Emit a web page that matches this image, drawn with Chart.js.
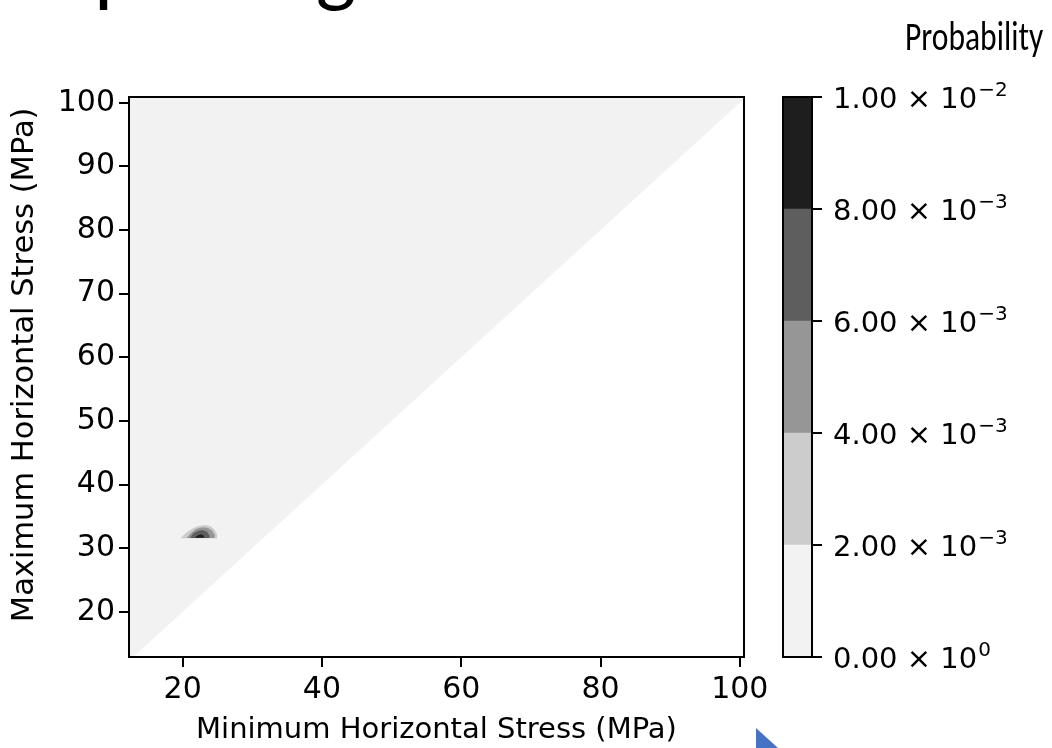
<!DOCTYPE html>
<html>
<head>
<meta charset="utf-8">
<script src="https://cdn.jsdelivr.net/npm/chart.js@4"></script>
<style>
  html, body { margin: 0; padding: 0; background: #fff; }
  #page { position: relative; width: 1052px; height: 748px; overflow: hidden; }
  #mainChart { position: absolute; left: 0; top: 0; }
  #cbarChart { position: absolute; left: 770px; top: 0; }
  #slideTitle { position: absolute; left: 41px; top: -79px; font: 72px 'Carlito', 'Noto Sans', sans-serif; color: #000; white-space: nowrap; line-height: 1.2; }
  #cbarTitle { position: absolute; left: 905px; top: 12px; font: 40px 'Carlito', 'Noto Sans', sans-serif; color: #000; white-space: nowrap; transform-origin: 0 0; }
  #arrow { position: absolute; left: 756px; top: 728px; width: 22px; height: 20px; background: #4472c4; clip-path: polygon(0 0, 100% 100%, 0 100%); }
</style>
</head>
<body>
<div id="page">
  <div id="slideTitle">Updating<span id="base" style="display:inline-block;width:0;height:0"></span></div>
  <canvas id="mainChart" width="775" height="748"></canvas>
  <canvas id="cbarChart" width="282" height="748"></canvas>
  <div id="cbarTitle">Probability</div>
  <div id="arrow"></div>
</div>
<script>
// axis ranges and ticks
const xRange = [12.3, 100.6];
const yRange = [12.9, 100.9];
const xTicks = [20, 40, 60, 80, 100];
const yTicks = [20, 30, 40, 50, 60, 70, 80, 90, 100];

// prior region: Shmax >= Shmin (filled above the line)
const diagX = [12.3, 100.6];
const diagY = [12.3, 100.6];

// probability contours (outer -> inner), x = Shmin, y = Shmax
const level1X = [19.8, 20.6, 21.4, 22.3, 23.3, 24.0, 24.6, 24.95, 24.95, 19.8];
const level1Y = [31.7, 32.5, 33.1, 33.5, 33.65, 33.45, 32.9, 32.1, 31.55, 31.55];
const level2X = [20.6, 21.2, 21.9, 22.8, 23.6, 24.2, 24.6, 24.6, 20.6];
const level2Y = [31.65, 32.4, 33.0, 33.3, 33.2, 32.8, 32.1, 31.6, 31.6];
const level3X = [21.1, 21.5, 22.2, 22.9, 23.5, 23.85, 23.85, 21.1];
const level3Y = [31.65, 32.3, 32.75, 32.85, 32.6, 32.0, 31.6, 31.6];
const level4X = [21.8, 22.2, 22.6, 23.0, 23.1, 21.8];
const level4Y = [31.7, 32.05, 32.2, 32.0, 31.65, 31.65];

// colour bar
const cbarTicks = [0, 0.002, 0.004, 0.006, 0.008, 0.01];
const cbarMantissa = ['0.00', '2.00', '4.00', '6.00', '8.00', '1.00'];
const cbarExponent = ['0', '−3', '−3', '−3', '−3', '−2'];
const bandColors = ['#f2f2f2', '#cccccc', '#969696', '#5e5e5e', '#1e1e1e'];

const tickFont = { family: "'DejaVu Sans', sans-serif", size: 30 };
const titleFont = { family: "'DejaVu Sans', sans-serif", size: 29 };
const yTitleFont = { family: "'DejaVu Sans', sans-serif", size: 30.5 };

function toPoints(xs, ys) {
  return xs.map((x, i) => ({ x, y: ys[i] }));
}

function contour(xs, ys, color, order) {
  return {
    data: toPoints(xs, ys),
    showLine: true,
    fill: 'shape',
    backgroundColor: color,
    borderColor: 'transparent',
    borderWidth: 0,
    pointRadius: 0,
    order
  };
}

// draws the black box round the plot area
const framePlugin = {
  id: 'frame',
  afterDraw(chart) {
    const { ctx, chartArea: a } = chart;
    ctx.save();
    ctx.strokeStyle = '#000';
    ctx.lineWidth = 2;
    ctx.strokeRect(a.left, a.top, a.right - a.left, a.bottom - a.top);
    ctx.restore();
  }
};

// colour bar labels like "2.00 × 10^-3" with a raised exponent
const sciLabelPlugin = {
  id: 'sciLabels',
  afterDraw(chart) {
    const { ctx, chartArea: a } = chart;
    const scale = chart.scales.y;
    ctx.save();
    ctx.fillStyle = '#000';
    ctx.textBaseline = 'alphabetic';
    ctx.textAlign = 'left';
    cbarTicks.forEach((v, i) => {
      const y = scale.getPixelForValue(v);
      const x = a.right + 21;
      ctx.font = "29px 'DejaVu Sans', sans-serif";
      const main = cbarMantissa[i] + ' × 10';
      ctx.fillText(main, x, y + 10.5);
      const w = ctx.measureText(main).width;
      ctx.font = "20px 'DejaVu Sans', sans-serif";
      ctx.fillText(cbarExponent[i], x + w + 1, y - 1);
    });
    ctx.restore();
  }
};

Chart.defaults.font.family = "'DejaVu Sans', sans-serif";
Chart.defaults.color = '#000';

new Chart(document.getElementById('mainChart').getContext('2d'), {
  type: 'scatter',
  data: {
    datasets: [
      contour(level4X, level4Y, bandColors[4], 1),
      contour(level3X, level3Y, bandColors[3], 2),
      contour(level2X, level2Y, bandColors[2], 3),
      contour(level1X, level1Y, bandColors[1], 4),
      {
        data: toPoints(diagX, diagY),
        showLine: true,
        fill: 'end',
        backgroundColor: bandColors[0],
        borderColor: 'transparent',
        borderWidth: 0,
        pointRadius: 0,
        order: 5
      }
    ]
  },
  options: {
    responsive: false,
    animation: false,
    devicePixelRatio: 1,
    layout: { padding: { left: 0, top: 97, right: 31, bottom: 0 } },
    plugins: { legend: { display: false }, tooltip: { enabled: false } },
    scales: {
      x: {
        type: 'linear',
        min: xRange[0],
        max: xRange[1],
        afterBuildTicks: s => { s.ticks = xTicks.map(v => ({ value: v })); },
        afterFit: s => { s.height = 91; },
        grid: { drawOnChartArea: false, drawTicks: true, tickLength: 10, color: '#000', lineWidth: 2 },
        border: { display: false },
        ticks: { font: tickFont, padding: 5, maxRotation: 0 },
        title: { display: true, text: 'Minimum Horizontal Stress (MPa)', font: titleFont, padding: { top: 0, bottom: 0 } }
      },
      y: {
        type: 'linear',
        min: yRange[0],
        max: yRange[1],
        afterBuildTicks: s => { s.ticks = yTicks.map(v => ({ value: v })); },
        afterFit: s => { s.width = 129; },
        grid: { drawOnChartArea: false, drawTicks: true, tickLength: 10, color: '#000', lineWidth: 2 },
        border: { display: false },
        ticks: { font: tickFont, padding: 4 },
        // thin spaces in front nudge the label up a little, as in the picture
        title: { display: true, text: '\u2009\u2009\u2009\u2009Maximum Horizontal Stress (MPa)', font: yTitleFont, padding: { top: 7, bottom: 0 } }
      }
    }
  },
  plugins: [framePlugin]
});

new Chart(document.getElementById('cbarChart').getContext('2d'), {
  type: 'bar',
  data: {
    labels: [''],
    datasets: bandColors.map((c, i) => ({
      data: [cbarTicks[i + 1] - cbarTicks[i]],
      backgroundColor: c,
      borderWidth: 0,
      barPercentage: 1,
      categoryPercentage: 1
    }))
  },
  options: {
    responsive: false,
    animation: false,
    devicePixelRatio: 1,
    layout: { padding: { left: 13, top: 97, right: 0, bottom: 91 } },
    plugins: { legend: { display: false }, tooltip: { enabled: false } },
    scales: {
      x: { display: false, stacked: true },
      y: {
        position: 'right',
        stacked: true,
        min: 0,
        max: 0.01,
        afterBuildTicks: s => { s.ticks = cbarTicks.map(v => ({ value: v })); },
        afterFit: s => { s.width = 240; },
        grid: { drawOnChartArea: false, drawTicks: true, tickLength: 10, color: '#000', lineWidth: 2 },
        border: { display: false },
        ticks: { font: titleFont, padding: 10, callback: () => '' }
      }
    }
  },
  plugins: [framePlugin, sciLabelPlugin]
});

// squeeze the colour bar title to the width it has in the picture
const cbTitle = document.getElementById('cbarTitle');
cbTitle.style.transform = 'scaleX(' + (138 / cbTitle.offsetWidth) + ')';

// slide title cut off by the top edge: only the descenders of p and g show
const st = document.getElementById('slideTitle');
const tNode = st.firstChild;
function charRect(i) {
  const r = document.createRange();
  r.setStart(tNode, i);
  r.setEnd(tNode, i + 1);
  return r.getBoundingClientRect();
}
let pRect = charRect(1), gRect = charRect(7);
const size0 = parseFloat(getComputedStyle(st).fontSize);
const size1 = size0 * 262 / (gRect.right - pRect.left);
st.style.fontSize = size1 + 'px';
pRect = charRect(1);
st.style.left = (parseFloat(st.style.left || 41) + 94 - pRect.left) + 'px';
const mctx = document.createElement('canvas').getContext('2d');
mctx.font = size1 + "px " + getComputedStyle(st).fontFamily;
const desc = mctx.measureText('pg').actualBoundingBoxDescent;
const baseY = document.getElementById('base').getBoundingClientRect().bottom;
st.style.top = (parseFloat(getComputedStyle(st).top) + (11 - desc) - baseY) + 'px';
</script>
</body>
</html>
